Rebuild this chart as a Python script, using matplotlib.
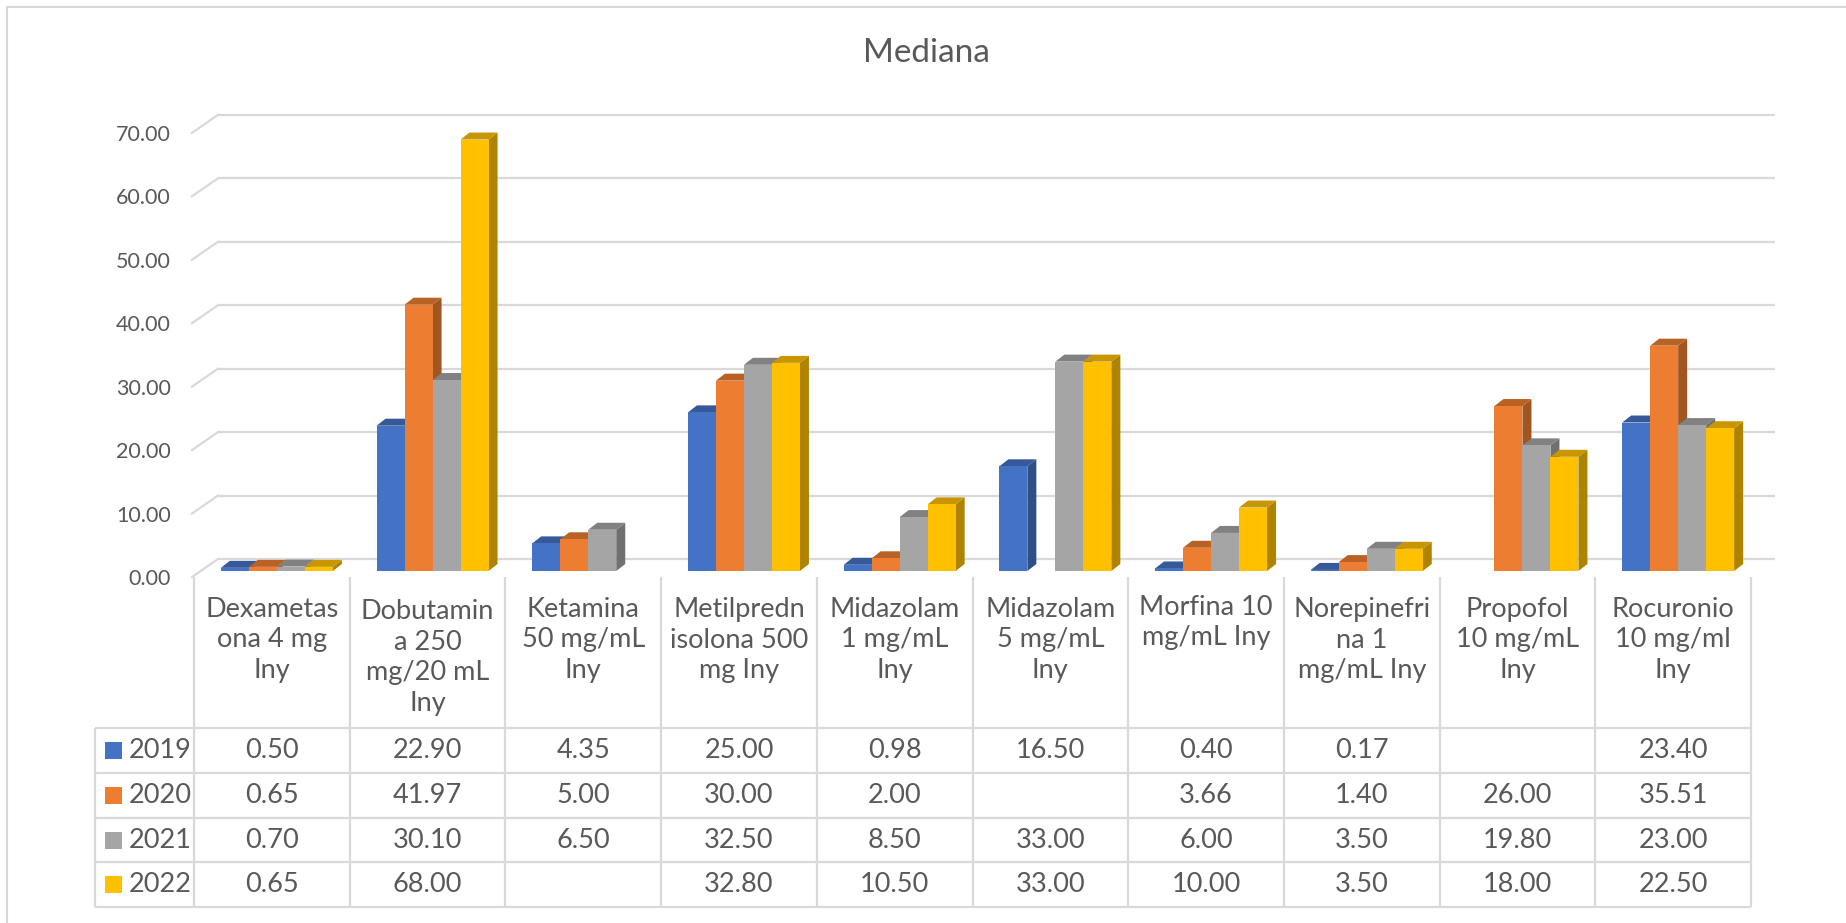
import numpy as np
import matplotlib
matplotlib.use("Agg")
import matplotlib.pyplot as plt
from matplotlib.patches import Polygon, Rectangle
from matplotlib.lines import Line2D
from matplotlib.transforms import ScaledTranslation

# ---- data -------------------------------------------------------------
categories = [
    "Dexametas\nona 4 mg\nIny",
    "Dobutamin\na 250\nmg/20 mL\nIny",
    "Ketamina\n50 mg/mL\nIny",
    "Metilpredn\nisolona 500\nmg Iny",
    "Midazolam\n1 mg/mL\nIny",
    "Midazolam\n5 mg/mL\nIny",
    "Morfina 10\nmg/mL Iny",
    "Norepinefri\nna 1\nmg/mL Iny",
    "Propofol\n10 mg/mL\nIny",
    "Rocuronio\n10 mg/ml\nIny",
]
series_names = ["2019", "2020", "2021", "2022"]
nan = np.nan
v2019 = [0.50, 22.90, 4.35, 25.00, 0.98, 16.50, 0.40, 0.17, nan, 23.40]
v2020 = [0.65, 41.97, 5.00, 30.00, 2.00, nan, 3.66, 1.40, 26.00, 35.51]
v2021 = [0.70, 30.10, 6.50, 32.50, 8.50, 33.00, 6.00, 3.50, 19.80, 23.00]
v2022 = [0.65, 68.00, nan, 32.80, 10.50, 33.00, 10.00, 3.50, 18.00, 22.50]
series_values = [v2019, v2020, v2021, v2022]
colors = ["#4472C4", "#ED7D31", "#A5A5A5", "#FFC000"]
y_ticks = [0, 10, 20, 30, 40, 50, 60, 70]
title = "Mediana"

# ---- layout (pixels) --------------------------------------------------
W, H, DPI = 1846, 923, 100
TXT = "#595959"
GRID = "#D9D9D9"
FONT = ["Lato", "DejaVu Sans"]
plt.rcParams["font.family"] = FONT

COL_PX = 155.7          # width of one category slot
UNIT_PX = 6.345         # pixels per value unit
BASE_Y = 571            # baseline of the bar plane
LEFT_X = 200.5          # left edge of the bar plane
YMAX = 75

def fig_box(x0, y0, x1, y1):
    return [x0 / W, 1 - y1 / H, (x1 - x0) / W, (y1 - y0) / H]

fig = plt.figure(figsize=(W / DPI, H / DPI), dpi=DPI)
fig.patch.set_facecolor("white")

# chart frame (only the top/left edges fall inside the canvas)
fig.add_artist(Line2D([7 / W, 7 / W], [0, 1 - 7 / H], transform=fig.transFigure,
                      color=GRID, lw=1.5))
fig.add_artist(Line2D([7 / W, 1], [1 - 7 / H, 1 - 7 / H], transform=fig.transFigure,
                      color=GRID, lw=1.5))

fig.text(926 / W, 1 - 53 / H, title, ha="center", va="center",
         fontsize=24, color=TXT)

# ---- 3D column area --------------------------------------------------
n_cat = len(categories)
ax = fig.add_axes(fig_box(LEFT_X, BASE_Y - YMAX * UNIT_PX,
                          LEFT_X + n_cat * COL_PX, BASE_Y))
ax.set_xlim(-0.5, n_cat - 0.5)
ax.set_ylim(0, YMAX)
ax.patch.set_alpha(0)
for s in ax.spines.values():
    s.set_visible(False)
ax.set_xticks([])

# pixel offsets converted into data units
def dx(px):
    return px / COL_PX

def dy(px):
    return px / UNIT_PX

BACK = (dx(17.5), dy(12))     # back wall relative to the bar plane
FRONT = (dx(-8.5), dy(-6))    # front edge of the floor
DEPTH = (dx(9), dy(7))        # visible depth of each column

# gridlines on the back wall + the short diagonal on the left side wall
x_left, x_right = -0.5, n_cat - 0.5
for t in y_ticks:
    ax.plot([x_left + BACK[0], x_right + BACK[0]], [t + BACK[1]] * 2,
            color=GRID, lw=1.6, zorder=1, clip_on=False, solid_capstyle="butt")
    ax.plot([x_left + FRONT[0], x_left + BACK[0]], [t + FRONT[1], t + BACK[1]],
            color=GRID, lw=1.6, zorder=1, clip_on=False)

ax.set_yticks(y_ticks)
ax.set_yticklabels([f"{t:.2f}" for t in y_ticks])
ax.tick_params(axis="y", length=0, pad=29.5 * 72 / DPI, labelsize=15.5,
               labelcolor=TXT)
shift = ScaledTranslation(0, -6 / DPI, fig.dpi_scale_trans)
for lab in ax.get_yticklabels():
    lab.set_transform(lab.get_transform() + shift)

def shade(hex_color, f):
    r, g, b = matplotlib.colors.to_rgb(hex_color)
    return (r * f, g * f, b * f)

bar_w = dx(28)
n_ser = len(series_values)
for i in range(n_cat):
    for j in range(n_ser):
        v = series_values[j][i]
        if np.isnan(v):
            continue
        c = colors[j]
        x0 = i + (j - n_ser / 2) * bar_w + dx(-1.5)
        x1 = x0 + bar_w
        ddx, ddy = DEPTH
        z = 3 + i * 10 + j
        side = Polygon([(x1, 0), (x1 + ddx, ddy), (x1 + ddx, v + ddy), (x1, v)],
                       closed=True, fc=shade(c, 0.68), ec="none", zorder=z)
        top = Polygon([(x0, v), (x1, v), (x1 + ddx, v + ddy), (x0 + ddx, v + ddy)],
                      closed=True, fc=shade(c, 0.78), ec="none", zorder=z)
        front = Rectangle((x0, 0), bar_w, v, fc=c, ec="none", zorder=z + 0.5)
        for p in (side, top, front):
            p.set_clip_on(False)
            ax.add_patch(p)

# ---- data table -------------------------------------------------------
TAB_L, TAB_R = 95, 1751
COL0 = 194
HEAD_T, ROW0, ROW_H = 577, 728, 44.8
TAB_B = ROW0 + ROW_H * n_ser

tab = fig.add_axes(fig_box(TAB_L - 2, HEAD_T - 2, TAB_R + 2, TAB_B + 2))
tab.set_xlim(TAB_L - 2, TAB_R + 2)
tab.set_ylim(TAB_B + 2, HEAD_T - 2)
tab.axis("off")

lw_t = 1.6
col_edges = [COL0 + COL_PX * k for k in range(n_cat + 1)]
for xe in col_edges:
    tab.plot([xe, xe], [HEAD_T, TAB_B], color=GRID, lw=lw_t, solid_capstyle="butt")
tab.plot([TAB_L, TAB_L], [ROW0, TAB_B], color=GRID, lw=lw_t, solid_capstyle="butt")
for r in range(n_ser + 1):
    yy = ROW0 + ROW_H * r
    tab.plot([TAB_L, col_edges[-1]], [yy, yy], color=GRID, lw=lw_t,
             solid_capstyle="butt")

FS_TAB = 19.5
line_px = 35
ls = line_px / (FS_TAB * DPI / 72)
for k, name in enumerate(categories):
    nl = name.count("\n") + 1
    cy = 605 + (nl - 1) * line_px / 2
    tab.text((col_edges[k] + col_edges[k + 1]) / 2, cy, name, ha="center",
             va="center", fontsize=FS_TAB, color=TXT, linespacing=ls,
             multialignment="center")

for r, (nm, vals, c) in enumerate(zip(series_names, series_values, colors)):
    cy = ROW0 + ROW_H * (r + 0.5)
    tab.add_patch(Rectangle((105, cy - 8.5), 17, 17, fc=c, ec="none"))
    tab.text(129, cy, nm, ha="left", va="center", fontsize=FS_TAB, color=TXT)
    for k, v in enumerate(vals):
        if np.isnan(v):
            continue
        tab.text((col_edges[k] + col_edges[k + 1]) / 2, cy, f"{v:.2f}",
                 ha="center", va="center", fontsize=FS_TAB, color=TXT)

fig.savefig("out.png", dpi=DPI, facecolor="white")
